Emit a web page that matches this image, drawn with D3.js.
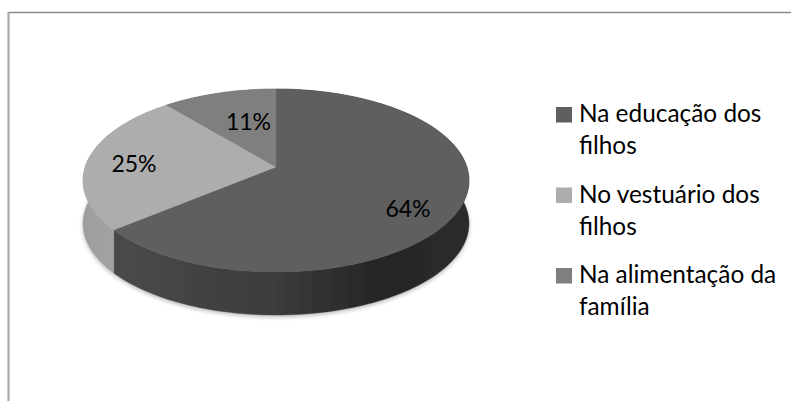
<!DOCTYPE html>
<html>
<head>
<meta charset="utf-8">
<script src="https://cdn.jsdelivr.net/npm/d3@7/dist/d3.min.js"></script>
<style>
html,body{margin:0;padding:0;background:#fff}
svg{display:block}
text{font-family:Lato,"Open Sans",sans-serif;fill:#000}
</style>
</head>
<body>
<div id="chart"></div>
<script>
const categories = ["Na educação dos filhos", "No vestuário dos filhos", "Na alimentação da família"];
const legendLines = [["Na educação dos", "filhos"], ["No vestuário dos", "filhos"], ["Na alimentação da", "família"]];
const values = [64, 25, 11];
const topColors = ["#5f5f5f", "#adadad", "#7f7f7f"];
const labelOffsets = [[408, 217], [134, 172], [248.5, 130]];

const W = 791, H = 401;
const svg = d3.select("#chart").append("svg").attr("width", W).attr("height", H);
const defs = svg.append("defs");

const blur = defs.append("filter").attr("id", "soft").attr("x", "-5%").attr("y", "-5%").attr("width", "110%").attr("height", "110%");
blur.append("feGaussianBlur").attr("stdDeviation", 0.45);
const shadow = defs.append("filter").attr("id", "shadow").attr("x", "-10%").attr("y", "-20%").attr("width", "120%").attr("height", "140%");
shadow.append("feGaussianBlur").attr("stdDeviation", 2.2);

const g1 = defs.append("linearGradient").attr("id", "sideDark").attr("gradientUnits", "userSpaceOnUse")
  .attr("x1", 113).attr("x2", 469).attr("y1", 0).attr("y2", 0);
[[0, "#4a4a4a"], [0.45, "#3c3c3c"], [0.75, "#252525"], [1, "#2c2c2c"]].forEach(([o, c]) => g1.append("stop").attr("offset", o).attr("stop-color", c));
const g2 = defs.append("linearGradient").attr("id", "sideLight").attr("gradientUnits", "userSpaceOnUse")
  .attr("x1", 83).attr("x2", 116).attr("y1", 0).attr("y2", 0);
[[0, "#9d9d9d"], [1, "#a3a3a3"]].forEach(([o, c]) => g2.append("stop").attr("offset", o).attr("stop-color", c));
const sideFills = ["url(#sideDark)", "url(#sideLight)", "#6a6a6a"];

// Frame
svg.append("line").attr("x1", 8).attr("x2", W).attr("y1", 12.5).attr("y2", 12.5).attr("stroke", "#8a8a8a").attr("stroke-width", 1.3);
svg.append("line").attr("x1", 8.5).attr("x2", 8.5).attr("y1", 12).attr("y2", H).attr("stroke", "#a8a8a8").attr("stroke-width", 2.2);

// Perspective projection of the unit pie disc
const cx = 276, apexY = 167, A = 190.9, a = 64.9, k = -0.1475, depth = 43;
const project = (ang, r = 1) => {
  const u = Math.sin(ang) * r, v = -Math.cos(ang) * r, d = 1 + k * v;
  return [cx + A * u / d, (apexY + a * v) / d];
};

const arcs = d3.pie().sort(null).value(d => d)(values);
const line = d3.line();
const arcPts = d => d3.range(0, 121).map(i => project(d.startAngle + (d.endAngle - d.startAngle) * i / 120));

const pie = svg.append("g");

// Soft shadow beneath the disc
const fullCircle = d3.range(0, 181).map(i => project(i / 180 * 2 * Math.PI));
svg.insert("path", "g")
  .attr("d", line(fullCircle.map(p => [p[0], p[1] + depth + 2])) + "Z")
  .attr("fill", "#000").attr("opacity", 0.28).attr("filter", "url(#shadow)");

const soft = pie.append("g").attr("filter", "url(#soft)");

// Side walls
soft.selectAll("path.side").data(arcs).join("path").attr("class", "side")
  .attr("d", d => {
    const p = arcPts(d);
    return line(p.concat(p.slice().reverse().map(q => [q[0], q[1] + depth]))) + "Z";
  })
  .attr("fill", (d, i) => sideFills[i])
  .attr("stroke", (d, i) => sideFills[i]).attr("stroke-width", 0.4);

// Top faces
soft.selectAll("path.top").data(arcs).join("path").attr("class", "top")
  .attr("d", d => line([[cx, apexY], ...arcPts(d)]) + "Z")
  .attr("fill", (d, i) => topColors[i])
  .attr("stroke", (d, i) => topColors[i]).attr("stroke-width", 0.3);

// Data labels
pie.selectAll("text.lab").data(values).join("text").attr("class", "lab")
  .attr("x", (d, i) => labelOffsets[i][0]).attr("y", (d, i) => labelOffsets[i][1])
  .attr("text-anchor", "middle").attr("font-size", 23).text(d => d + "%");

// Legend
const legendY = d3.scalePoint().domain(categories).range([122, 283]);
const leg = svg.selectAll("g.leg").data(categories).join("g").attr("class", "leg")
  .attr("transform", d => `translate(0,${legendY(d)})`);
leg.append("rect").attr("x", 556).attr("y", -15).attr("width", 16).attr("height", 15.5)
  .attr("fill", (d, i) => topColors[i]);
leg.each(function (d, i) {
  d3.select(this).selectAll("text").data(legendLines[i]).join("text")
    .attr("x", 579).attr("y", (t, j) => j * 32)
    .attr("font-size", 24.4).text(t => t);
});
</script>
</body>
</html>
